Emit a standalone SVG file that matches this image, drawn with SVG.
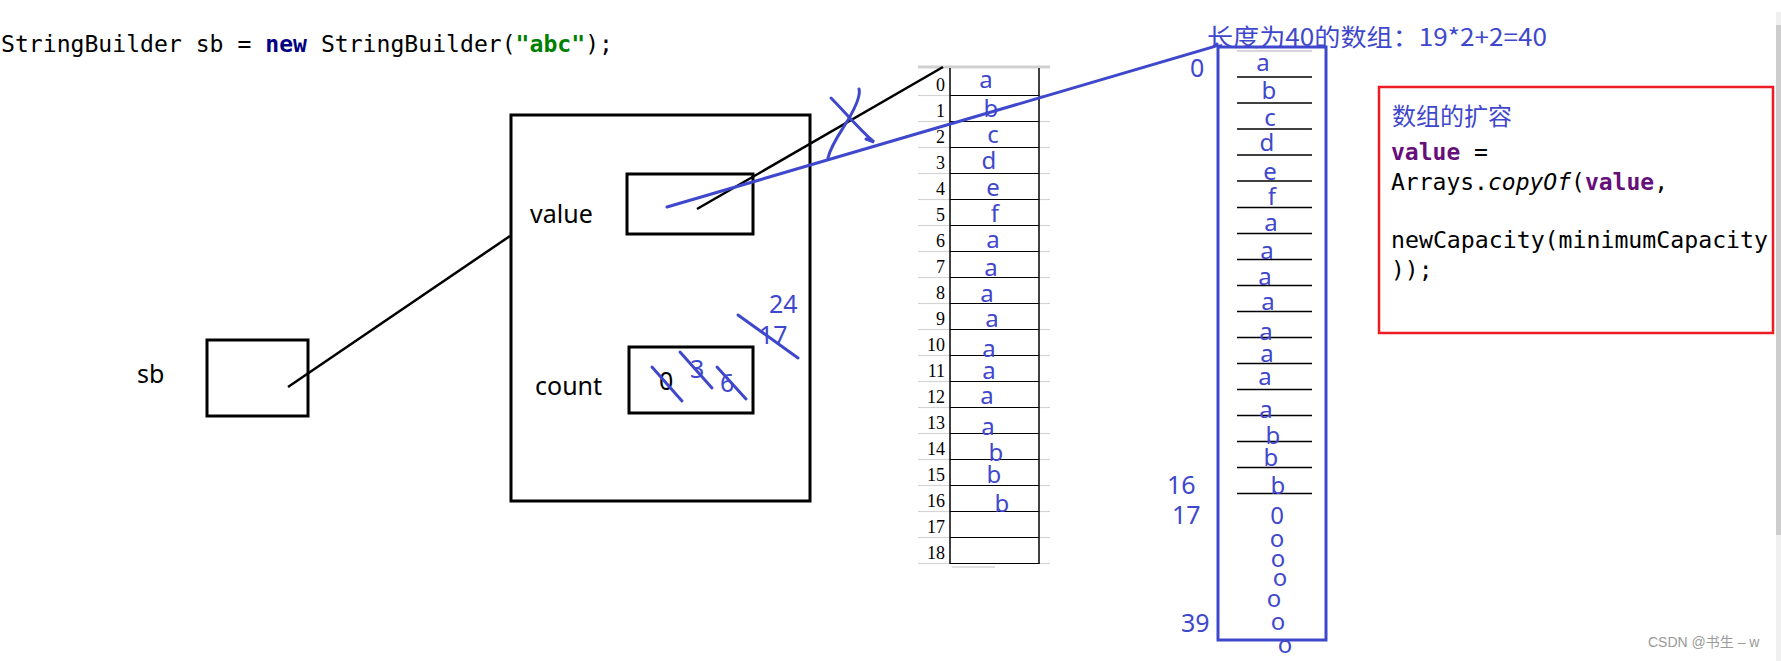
<svg xmlns="http://www.w3.org/2000/svg" width="1781" height="661" viewBox="0 0 1781 661">
<style>
.bk{fill:none;stroke:#000;stroke-width:3}
.ln{fill:none;stroke:#000;stroke-width:2.5}
.bl{fill:none;stroke:#3F48CC;stroke-width:3;stroke-linecap:round}
.lab{font-family:"Noto Sans","Liberation Sans",sans-serif;font-size:25px;fill:#000}
.bt{font-family:"Noto Sans","Liberation Sans",sans-serif;font-size:24px;fill:#3F48CC;text-anchor:middle}
.bn{font-family:"Noto Sans","Liberation Sans",sans-serif;font-size:25px;fill:#3F48CC}
.idx{font-family:"Liberation Serif",serif;font-size:18px;fill:#000;text-anchor:end}
.code{font-family:"DejaVu Sans Mono","Liberation Mono",monospace;font-size:23px;fill:#000}
.kw{font-weight:bold;fill:#000080}
.str{font-weight:bold;fill:#008000}
.fld{font-weight:bold;fill:#660E7A}
.cjk{font-family:"Noto Sans CJK SC","Noto Sans",sans-serif;font-size:24px;fill:#3F48CC}
.gl{stroke:#d4d4d4;stroke-width:1.2}
.rl{stroke:#000;stroke-width:1.2}
</style>
<rect width="1781" height="661" fill="#fff"/>

<g id="code-line">
<text class="code" x="1" y="52" textLength="612" lengthAdjust="spacingAndGlyphs">StringBuilder sb = <tspan class="kw">new</tspan> StringBuilder(<tspan class="str">"abc"</tspan>);</text>
</g>

<g id="sb">
<text class="lab" x="137" y="383">sb</text>
<rect class="bk" x="207" y="340" width="101" height="76"/>
</g>

<g id="object">
<rect class="bk" x="511" y="115" width="299" height="386"/>
<text class="lab" x="530" y="223">value</text>
<rect class="bk" x="627" y="174" width="126" height="60"/>
<text class="lab" x="535" y="395">count</text>
<rect class="bk" x="629" y="347" width="124" height="66"/>
<text class="lab" x="659" y="390">0</text>
<text class="bn" x="690" y="378">3</text>
<text class="bn" x="720" y="392">6</text>
<text class="bn" x="769" y="313">24</text>
<text class="bn" x="759" y="344">17</text>
</g>

<g id="small-array">
<line x1="918" y1="67" x2="1050" y2="67" stroke="#d0d0d0" stroke-width="3"/>
<g id="small-rows">
<line class="gl" x1="918" y1="95.5" x2="950" y2="95.5"/><line class="rl" x1="950" y1="95.5" x2="1039" y2="95.5"/><line class="gl" x1="1039" y1="95.5" x2="1050" y2="95.5"/>
<line class="gl" x1="918" y1="121.5" x2="950" y2="121.5"/><line class="rl" x1="950" y1="121.5" x2="1039" y2="121.5"/><line class="gl" x1="1039" y1="121.5" x2="1050" y2="121.5"/>
<line class="gl" x1="918" y1="147.5" x2="950" y2="147.5"/><line class="rl" x1="950" y1="147.5" x2="1039" y2="147.5"/><line class="gl" x1="1039" y1="147.5" x2="1050" y2="147.5"/>
<line class="gl" x1="918" y1="173.5" x2="950" y2="173.5"/><line class="rl" x1="950" y1="173.5" x2="1039" y2="173.5"/><line class="gl" x1="1039" y1="173.5" x2="1050" y2="173.5"/>
<line class="gl" x1="918" y1="199.5" x2="950" y2="199.5"/><line class="rl" x1="950" y1="199.5" x2="1039" y2="199.5"/><line class="gl" x1="1039" y1="199.5" x2="1050" y2="199.5"/>
<line class="gl" x1="918" y1="225.5" x2="950" y2="225.5"/><line class="rl" x1="950" y1="225.5" x2="1039" y2="225.5"/><line class="gl" x1="1039" y1="225.5" x2="1050" y2="225.5"/>
<line class="gl" x1="918" y1="251.5" x2="950" y2="251.5"/><line class="rl" x1="950" y1="251.5" x2="1039" y2="251.5"/><line class="gl" x1="1039" y1="251.5" x2="1050" y2="251.5"/>
<line class="gl" x1="918" y1="277.5" x2="950" y2="277.5"/><line class="rl" x1="950" y1="277.5" x2="1039" y2="277.5"/><line class="gl" x1="1039" y1="277.5" x2="1050" y2="277.5"/>
<line class="gl" x1="918" y1="303.5" x2="950" y2="303.5"/><line class="rl" x1="950" y1="303.5" x2="1039" y2="303.5"/><line class="gl" x1="1039" y1="303.5" x2="1050" y2="303.5"/>
<line class="gl" x1="918" y1="329.5" x2="950" y2="329.5"/><line class="rl" x1="950" y1="329.5" x2="1039" y2="329.5"/><line class="gl" x1="1039" y1="329.5" x2="1050" y2="329.5"/>
<line class="gl" x1="918" y1="355.5" x2="950" y2="355.5"/><line class="rl" x1="950" y1="355.5" x2="1039" y2="355.5"/><line class="gl" x1="1039" y1="355.5" x2="1050" y2="355.5"/>
<line class="gl" x1="918" y1="381.5" x2="950" y2="381.5"/><line class="rl" x1="950" y1="381.5" x2="1039" y2="381.5"/><line class="gl" x1="1039" y1="381.5" x2="1050" y2="381.5"/>
<line class="gl" x1="918" y1="407.5" x2="950" y2="407.5"/><line class="rl" x1="950" y1="407.5" x2="1039" y2="407.5"/><line class="gl" x1="1039" y1="407.5" x2="1050" y2="407.5"/>
<line class="gl" x1="918" y1="433.5" x2="950" y2="433.5"/><line class="rl" x1="950" y1="433.5" x2="1039" y2="433.5"/><line class="gl" x1="1039" y1="433.5" x2="1050" y2="433.5"/>
<line class="gl" x1="918" y1="459.5" x2="950" y2="459.5"/><line class="rl" x1="950" y1="459.5" x2="1039" y2="459.5"/><line class="gl" x1="1039" y1="459.5" x2="1050" y2="459.5"/>
<line class="gl" x1="918" y1="485.5" x2="950" y2="485.5"/><line class="rl" x1="950" y1="485.5" x2="1039" y2="485.5"/><line class="gl" x1="1039" y1="485.5" x2="1050" y2="485.5"/>
<line class="gl" x1="918" y1="511.5" x2="950" y2="511.5"/><line class="rl" x1="950" y1="511.5" x2="1039" y2="511.5"/><line class="gl" x1="1039" y1="511.5" x2="1050" y2="511.5"/>
<line class="gl" x1="918" y1="537.5" x2="950" y2="537.5"/><line class="rl" x1="950" y1="537.5" x2="1039" y2="537.5"/><line class="gl" x1="1039" y1="537.5" x2="1050" y2="537.5"/>
<line class="gl" x1="918" y1="563.5" x2="950" y2="563.5"/><line class="rl" x1="950" y1="563.5" x2="1039" y2="563.5"/><line class="gl" x1="1039" y1="563.5" x2="1050" y2="563.5"/>
</g>
<line x1="950" y1="68" x2="950" y2="564" stroke="#000" stroke-width="1.5"/>
<line x1="1039" y1="68" x2="1039" y2="564" stroke="#000" stroke-width="1.5"/>
<line x1="952" y1="567" x2="995" y2="567" stroke="#e0e0e0" stroke-width="2"/>
<g id="small-index">
<text class="idx" x="945" y="91">0</text>
<text class="idx" x="945" y="117">1</text>
<text class="idx" x="945" y="143">2</text>
<text class="idx" x="945" y="169">3</text>
<text class="idx" x="945" y="195">4</text>
<text class="idx" x="945" y="221">5</text>
<text class="idx" x="945" y="247">6</text>
<text class="idx" x="945" y="273">7</text>
<text class="idx" x="945" y="299">8</text>
<text class="idx" x="945" y="325">9</text>
<text class="idx" x="945" y="351">10</text>
<text class="idx" x="945" y="377">11</text>
<text class="idx" x="945" y="403">12</text>
<text class="idx" x="945" y="429">13</text>
<text class="idx" x="945" y="455">14</text>
<text class="idx" x="945" y="481">15</text>
<text class="idx" x="945" y="507">16</text>
<text class="idx" x="945" y="533">17</text>
<text class="idx" x="945" y="559">18</text>
</g>
<g id="small-values">
<text class="bt" x="986" y="88">a</text>
<text class="bt" x="991" y="117">b</text>
<text class="bt" x="993" y="143">c</text>
<text class="bt" x="989" y="169">d</text>
<text class="bt" x="993" y="196">e</text>
<text class="bt" x="995" y="222">f</text>
<text class="bt" x="993" y="248">a</text>
<text class="bt" x="991" y="276">a</text>
<text class="bt" x="987" y="302">a</text>
<text class="bt" x="992" y="327">a</text>
<text class="bt" x="989" y="357">a</text>
<text class="bt" x="989" y="379">a</text>
<text class="bt" x="987" y="404">a</text>
<text class="bt" x="988" y="435">a</text>
<text class="bt" x="996" y="461">b</text>
<text class="bt" x="994" y="483">b</text>
<text class="bt" x="1002" y="512">b</text>
</g>
</g>

<g id="big-array">
<text class="cjk" x="1207" y="46" textLength="340" lengthAdjust="spacingAndGlyphs">长度为40的数组：19*2+2=40</text>
<rect x="1218" y="47" width="108" height="593" fill="none" stroke="#3F48CC" stroke-width="3"/>
<line x1="1237" y1="51" x2="1312" y2="51" stroke="#c8c8c8" stroke-width="1.5"/>
<g id="big-rows" stroke="#000" stroke-width="1.3">
<line x1="1237" y1="77" x2="1312" y2="77"/>
<line x1="1237" y1="103" x2="1312" y2="103"/>
<line x1="1237" y1="129" x2="1312" y2="129"/>
<line x1="1237" y1="155" x2="1312" y2="155"/>
<line x1="1237" y1="181" x2="1312" y2="181"/>
<line x1="1237" y1="207.5" x2="1312" y2="207.5"/>
<line x1="1237" y1="233.5" x2="1312" y2="233.5"/>
<line x1="1237" y1="259.5" x2="1312" y2="259.5"/>
<line x1="1237" y1="285.5" x2="1312" y2="285.5"/>
<line x1="1237" y1="311.5" x2="1312" y2="311.5"/>
<line x1="1237" y1="337.5" x2="1312" y2="337.5"/>
<line x1="1237" y1="363.5" x2="1312" y2="363.5"/>
<line x1="1237" y1="389.5" x2="1312" y2="389.5"/>
<line x1="1237" y1="415.5" x2="1312" y2="415.5"/>
<line x1="1237" y1="441.5" x2="1312" y2="441.5"/>
<line x1="1237" y1="467.5" x2="1312" y2="467.5"/>
<line x1="1237" y1="493.5" x2="1312" y2="493.5"/>
</g>
<g id="big-values">
<text class="bt" x="1263" y="71">a</text>
<text class="bt" x="1269" y="99">b</text>
<text class="bt" x="1270" y="126">c</text>
<text class="bt" x="1267" y="151">d</text>
<text class="bt" x="1270" y="180">e</text>
<text class="bt" x="1272" y="205">f</text>
<text class="bt" x="1271" y="231">a</text>
<text class="bt" x="1267" y="259">a</text>
<text class="bt" x="1265" y="285">a</text>
<text class="bt" x="1268" y="310">a</text>
<text class="bt" x="1266" y="340">a</text>
<text class="bt" x="1267" y="362">a</text>
<text class="bt" x="1265" y="385">a</text>
<text class="bt" x="1266" y="418">a</text>
<text class="bt" x="1273" y="444">b</text>
<text class="bt" x="1271" y="466">b</text>
<text class="bt" x="1278" y="494">b</text>
<text class="bt" x="1277" y="524">0</text>
<text class="bt" x="1277" y="547">o</text>
<text class="bt" x="1278" y="567">o</text>
<text class="bt" x="1280" y="586">o</text>
<text class="bt" x="1274" y="607">o</text>
<text class="bt" x="1278" y="630">o</text>
<text class="bt" x="1285" y="653">o</text>
</g>
<text class="bn" x="1190" y="77">0</text>
<text class="bn" x="1167" y="494">16</text>
<text class="bn" x="1172" y="524">17</text>
<text class="bn" x="1181" y="632">39</text>
</g>

<g id="note">
<rect x="1379" y="87" width="394" height="246" fill="none" stroke="#ED1C24" stroke-width="2.5"/>
<text class="cjk" x="1392" y="125">数组的扩容</text>
<text class="code" x="1391" y="160"><tspan class="fld">value</tspan> =</text>
<text class="code" x="1391" y="190">Arrays.<tspan font-style="italic">copyOf</tspan>(<tspan class="fld">value</tspan>,</text>
<text class="code" x="1391" y="248" textLength="377" lengthAdjust="spacingAndGlyphs">newCapacity(minimumCapacity</text>
<text class="code" x="1391" y="278">));</text>
</g>

<g id="connectors">
<line class="ln" x1="288" y1="387" x2="510" y2="236"/>
<line class="ln" x1="697" y1="209" x2="943" y2="67"/>
<path class="bl" d="M667,207 L1213,47 L1217,44"/>
<path class="bl" d="M831,98 C845,112 858,128 874,142 L866,139"/>
<path class="bl" d="M859,89 C861,96 855,108 848,120 C840,133 831,145 828,158"/>
<line class="bl" x1="652" y1="367" x2="682" y2="401"/>
<line class="bl" x1="680" y1="352" x2="712" y2="388"/>
<line class="bl" x1="717" y1="367" x2="746" y2="399"/>
<line class="bl" x1="738" y1="315" x2="798" y2="358"/>
</g>

<g id="chrome">
<rect x="1776" y="12" width="5" height="649" fill="#f0f0f0"/>
<rect x="1776" y="25" width="5" height="510" fill="#cdcdcd"/>
<text x="1648" y="647" font-family="Liberation Sans,Noto Sans CJK SC,sans-serif" font-size="14" fill="#9a9a9a">CSDN @书生 – w</text>
</g>
</svg>
